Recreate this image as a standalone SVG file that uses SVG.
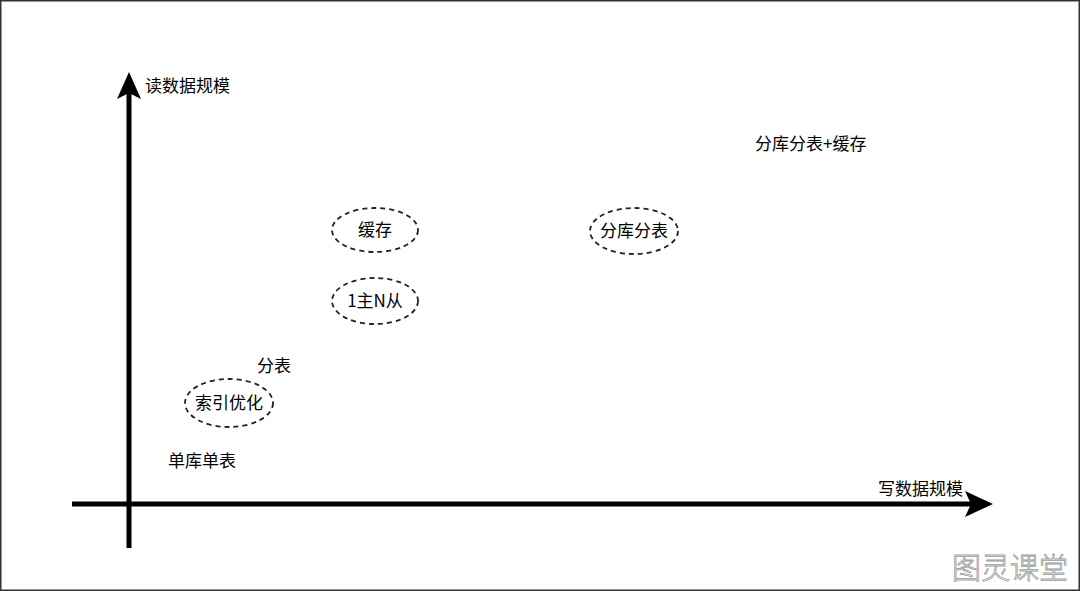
<svg xmlns="http://www.w3.org/2000/svg" width="1080" height="591" viewBox="0 0 1080 591">
<style>
.t{font-family:"Noto Sans CJK SC","Liberation Sans",sans-serif;font-size:17px;fill:#000;}
.e{fill:none;stroke:#222;stroke-width:1.8;stroke-dasharray:5 4;}
.ax{stroke:#000;stroke-width:5;fill:none;}
</style>
<rect x="0" y="0" width="1080" height="591" fill="#fff"/>
<rect x="0.75" y="0.75" width="1078.5" height="589.5" fill="none" stroke="#333" stroke-width="1.5"/>
<g id="connectors">
<line class="ax" x1="129" y1="548" x2="129" y2="92"/>
<polygon points="129,72 141,99 129,93 117,99" fill="#000"/>
<line class="ax" x1="72" y1="504" x2="972" y2="504"/>
<polygon points="993,504 965,491 971,504 965,517" fill="#000"/>
</g>
<g id="label-read"><text class="t" x="145" y="92">读数据规模</text></g>
<g id="label-write"><text class="t" x="878" y="495">写数据规模</text></g>
<g id="n-dkdb"><text class="t" x="168" y="467">单库单表</text></g>
<g id="n-fb"><text class="t" x="257" y="372">分表</text></g>
<g id="n-syyh"><ellipse class="e" cx="229" cy="403" rx="44" ry="24"/><text class="t" x="229" y="409" text-anchor="middle">索引优化</text></g>
<g id="n-1zn"><ellipse class="e" cx="375" cy="301" rx="43" ry="23"/><text class="t" x="375" y="307" text-anchor="middle">1主N从</text></g>
<g id="n-hc"><ellipse class="e" cx="375" cy="230" rx="43" ry="22"/><text class="t" x="375" y="236" text-anchor="middle">缓存</text></g>
<g id="n-fkfb"><ellipse class="e" cx="634" cy="231" rx="44" ry="23"/><text class="t" x="634" y="237" text-anchor="middle">分库分表</text></g>
<g id="n-fkfbhc"><text class="t" x="755" y="150">分库分表+缓存</text></g>
<g id="watermark"><text x="952" y="579" font-family="Noto Sans CJK SC,sans-serif" font-size="29" fill="#fafafa" stroke="#9a9a9a" stroke-width="0.8" font-weight="300">图灵课堂</text></g>
</svg>
